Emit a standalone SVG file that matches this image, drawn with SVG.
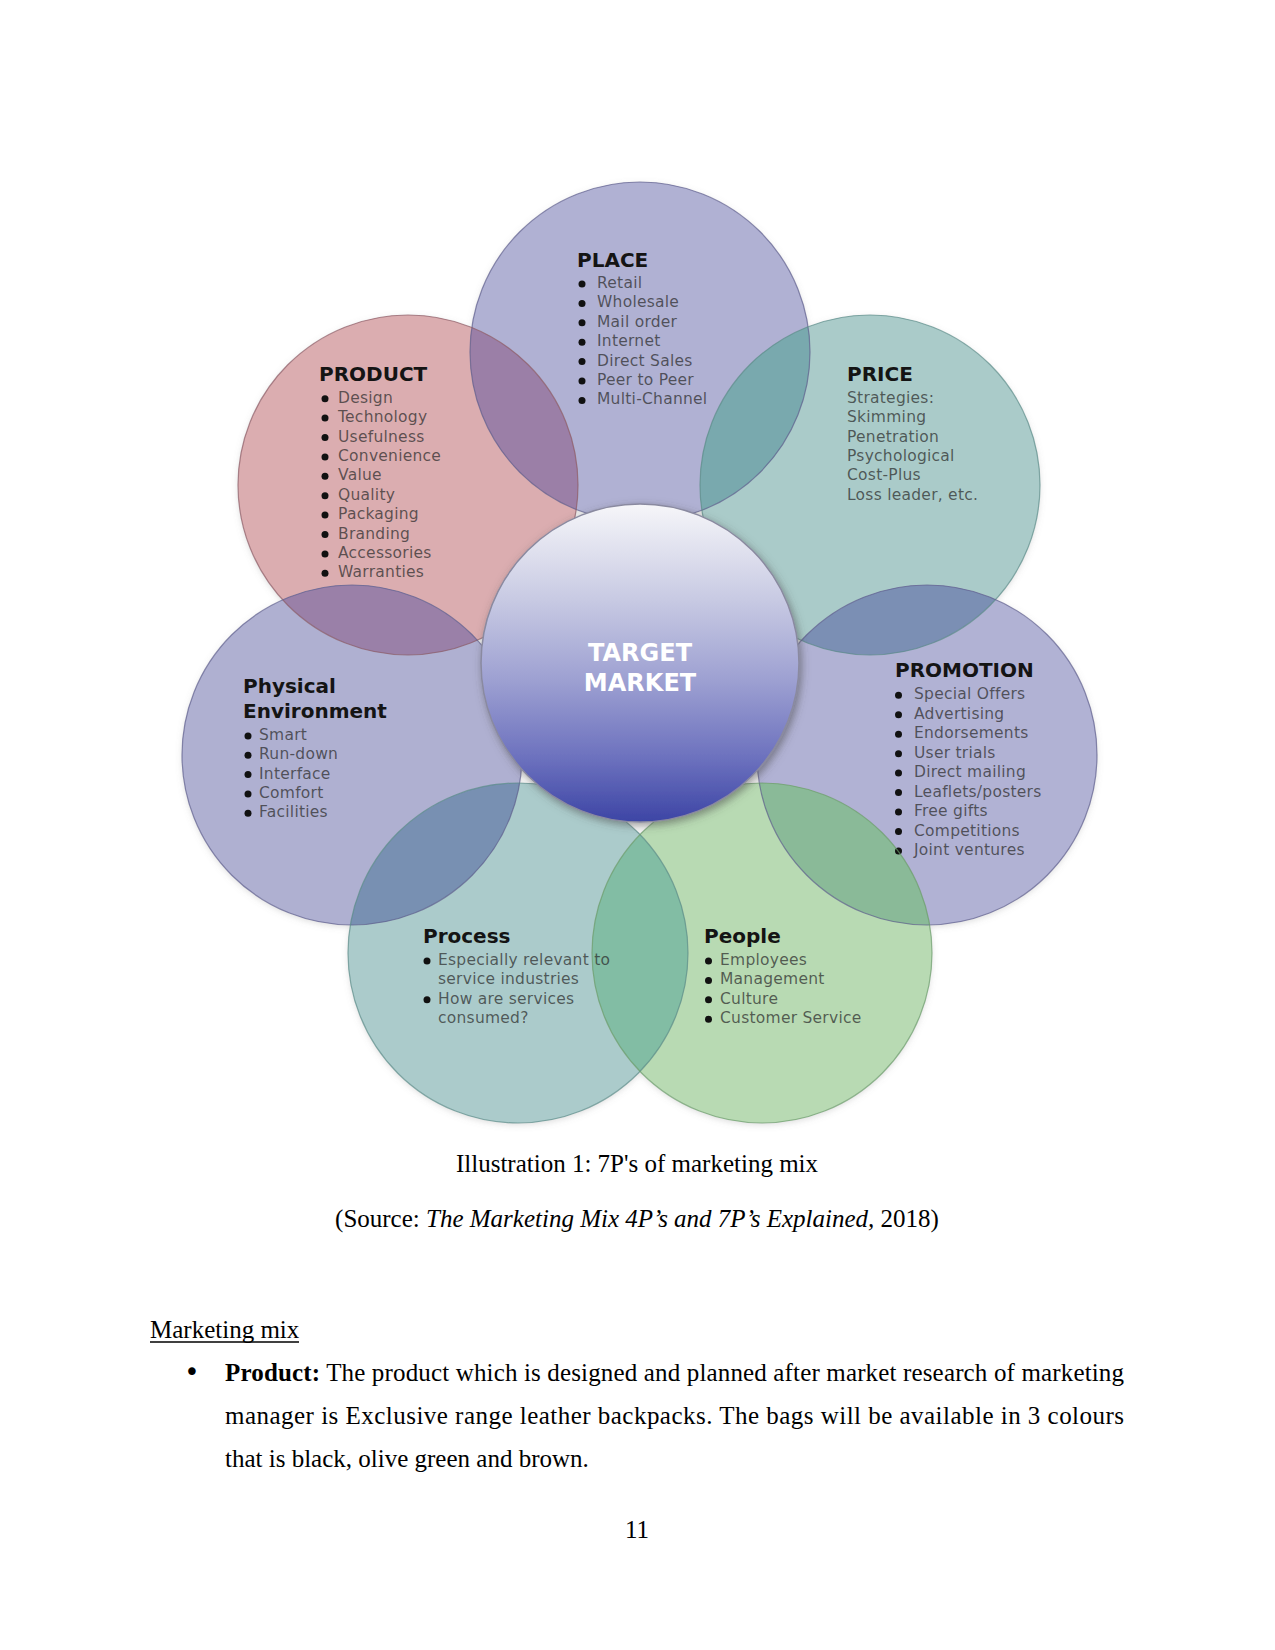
<svg xmlns="http://www.w3.org/2000/svg" width="1275" height="1650" viewBox="0 0 1275 1650">
<style>
.h{font-family:"DejaVu Sans",Verdana,sans-serif;font-weight:bold;font-size:20px;fill:#141414}
.it{font-family:"DejaVu Sans",Verdana,sans-serif;font-size:15.5px;letter-spacing:0.25px;fill:#2b2b2b;fill-opacity:0.72}
.b{fill:#111}
.ol{fill:none;stroke-width:1.2;stroke-opacity:0.7}
.doc{font-family:"Liberation Serif","Times New Roman",serif;font-size:25px;fill:#000}
.tm{font-family:"DejaVu Sans",Verdana,sans-serif;font-weight:bold;font-size:24px;fill:#fff;text-anchor:middle}
</style>
<defs>
<clipPath id="c-place"><circle cx="640" cy="352" r="170"/></clipPath>
<clipPath id="c-product"><circle cx="408" cy="485" r="170"/></clipPath>
<clipPath id="c-price"><circle cx="870" cy="485" r="170"/></clipPath>
<clipPath id="c-phys"><circle cx="352" cy="755" r="170"/></clipPath>
<clipPath id="c-promo"><circle cx="927" cy="755" r="170"/></clipPath>
<clipPath id="c-process"><circle cx="518" cy="953" r="170"/></clipPath>
<clipPath id="c-people"><circle cx="762" cy="953" r="170"/></clipPath>
<linearGradient id="tg" x1="0" y1="0" x2="0" y2="1">
<stop offset="0" stop-color="#f6f6f9"/>
<stop offset="0.3" stop-color="#c8cae3"/>
<stop offset="0.55" stop-color="#9ea1d2"/>
<stop offset="0.8" stop-color="#6c71be"/>
<stop offset="1" stop-color="#3d45a5"/>
</linearGradient>
<filter id="sh" x="-20%" y="-20%" width="140%" height="140%">
<feDropShadow dx="0" dy="2" stdDeviation="3" flood-color="#777" flood-opacity="0.25"/>
</filter>
<filter id="tsh" x="-20%" y="-20%" width="140%" height="140%">
<feDropShadow dx="2" dy="3" stdDeviation="4" flood-color="#444" flood-opacity="0.55"/>
</filter>
</defs>
<rect width="1275" height="1650" fill="#fff"/>

<g id="fills" filter="url(#sh)">
<circle cx="640" cy="352" r="170" fill="#b0b1d3"/>
<circle cx="408" cy="485" r="170" fill="#dbadb0"/>
<circle cx="870" cy="485" r="170" fill="#aacbc9"/>
<circle cx="352" cy="755" r="170" fill="#afb0d1"/>
<circle cx="927" cy="755" r="170" fill="#b1b2d4"/>
<circle cx="518" cy="953" r="170" fill="#abcbcb"/>
<circle cx="762" cy="953" r="170" fill="#b8dab3"/>
</g>

<g id="overlaps">
<circle cx="408" cy="485" r="170" fill="#9b7fa7" clip-path="url(#c-place)"/>
<circle cx="870" cy="485" r="170" fill="#79a9ae" clip-path="url(#c-place)"/>
<circle cx="927" cy="755" r="170" fill="#7b8fb4" clip-path="url(#c-price)"/>
<circle cx="762" cy="953" r="170" fill="#8aba98" clip-path="url(#c-promo)"/>
<circle cx="518" cy="953" r="170" fill="#82bda4" clip-path="url(#c-people)"/>
<circle cx="352" cy="755" r="170" fill="#7890b2" clip-path="url(#c-process)"/>
<circle cx="408" cy="485" r="170" fill="#9a80a8" clip-path="url(#c-phys)"/>
</g>

<g id="node-place">
<circle class="ol" cx="640" cy="352" r="170" stroke="#5d5d8c"/>
<text class="h" x="577" y="267">PLACE</text>
<g class="b"><circle cx="582" cy="284" r="3.5"/><circle cx="582" cy="303.4" r="3.5"/><circle cx="582" cy="322.8" r="3.5"/><circle cx="582" cy="342.2" r="3.5"/><circle cx="582" cy="361.6" r="3.5"/><circle cx="582" cy="381" r="3.5"/><circle cx="582" cy="400.4" r="3.5"/></g>
<text class="it"><tspan x="597" y="288">Retail</tspan><tspan x="597" y="307.4">Wholesale</tspan><tspan x="597" y="326.8">Mail order</tspan><tspan x="597" y="346.2">Internet</tspan><tspan x="597" y="365.6">Direct Sales</tspan><tspan x="597" y="385">Peer to Peer</tspan><tspan x="597" y="404.4">Multi-Channel</tspan></text>
</g>

<g id="node-product">
<circle class="ol" cx="408" cy="485" r="170" stroke="#8a5a64"/>
<text class="h" x="319" y="381">PRODUCT</text>
<g class="b"><circle cx="325" cy="398.7" r="3.5"/><circle cx="325" cy="418.1" r="3.5"/><circle cx="325" cy="437.5" r="3.5"/><circle cx="325" cy="456.9" r="3.5"/><circle cx="325" cy="476.3" r="3.5"/><circle cx="325" cy="495.7" r="3.5"/><circle cx="325" cy="515.1" r="3.5"/><circle cx="325" cy="534.5" r="3.5"/><circle cx="325" cy="553.9" r="3.5"/><circle cx="325" cy="573.3" r="3.5"/></g>
<text class="it"><tspan x="338" y="402.7">Design</tspan><tspan x="338" y="422.1">Technology</tspan><tspan x="338" y="441.5">Usefulness</tspan><tspan x="338" y="460.9">Convenience</tspan><tspan x="338" y="480.3">Value</tspan><tspan x="338" y="499.7">Quality</tspan><tspan x="338" y="519.1">Packaging</tspan><tspan x="338" y="538.5">Branding</tspan><tspan x="338" y="557.9">Accessories</tspan><tspan x="338" y="577.3">Warranties</tspan></text>
</g>

<g id="node-price">
<circle class="ol" cx="870" cy="485" r="170" stroke="#5a8a88"/>
<text class="h" x="847" y="381">PRICE</text>
<text class="it"><tspan x="847" y="402.7">Strategies:</tspan><tspan x="847" y="422.1">Skimming</tspan><tspan x="847" y="441.5">Penetration</tspan><tspan x="847" y="460.9">Psychological</tspan><tspan x="847" y="480.3">Cost-Plus</tspan><tspan x="847" y="499.7">Loss leader, etc.</tspan></text>
</g>

<g id="node-physical">
<circle class="ol" cx="352" cy="755" r="170" stroke="#5d5d8c"/>
<text class="h"><tspan x="243" y="693">Physical</tspan><tspan x="243" y="718">Environment</tspan></text>
<g class="b"><circle cx="248" cy="736" r="3.5"/><circle cx="248" cy="755.3" r="3.5"/><circle cx="248" cy="774.6" r="3.5"/><circle cx="248" cy="793.9" r="3.5"/><circle cx="248" cy="813.2" r="3.5"/></g>
<text class="it"><tspan x="259" y="740">Smart</tspan><tspan x="259" y="759.3">Run-down</tspan><tspan x="259" y="778.6">Interface</tspan><tspan x="259" y="797.9">Comfort</tspan><tspan x="259" y="817.2">Facilities</tspan></text>
</g>

<g id="node-promotion">
<circle class="ol" cx="927" cy="755" r="170" stroke="#5d5d8c"/>
<text class="h" x="895" y="677">PROMOTION</text>
<g class="b"><circle cx="898.5" cy="695.3" r="3.5"/><circle cx="898.5" cy="714.8" r="3.5"/><circle cx="898.5" cy="734.2" r="3.5"/><circle cx="898.5" cy="753.7" r="3.5"/><circle cx="898.5" cy="773.1" r="3.5"/><circle cx="898.5" cy="792.6" r="3.5"/><circle cx="898.5" cy="812" r="3.5"/><circle cx="898.5" cy="831.5" r="3.5"/><circle cx="898.5" cy="851" r="3.5"/></g>
<text class="it"><tspan x="914" y="699.3">Special Offers</tspan><tspan x="914" y="718.8">Advertising</tspan><tspan x="914" y="738.2">Endorsements</tspan><tspan x="914" y="757.7">User trials</tspan><tspan x="914" y="777.1">Direct mailing</tspan><tspan x="914" y="796.6">Leaflets/posters</tspan><tspan x="914" y="816">Free gifts</tspan><tspan x="914" y="835.5">Competitions</tspan><tspan x="914" y="855">Joint ventures</tspan></text>
</g>

<g id="node-process">
<circle class="ol" cx="518" cy="953" r="170" stroke="#5a8a88"/>
<text class="h" x="423" y="943">Process</text>
<g class="b"><circle cx="427" cy="961" r="3.5"/><circle cx="427" cy="999.8" r="3.5"/></g>
<text class="it"><tspan x="438" y="965">Especially relevant to</tspan><tspan x="438" y="984.4">service industries</tspan><tspan x="438" y="1003.8">How are services</tspan><tspan x="438" y="1023.2">consumed?</tspan></text>
</g>

<g id="node-people">
<circle class="ol" cx="762" cy="953" r="170" stroke="#6a9a6a"/>
<text class="h" x="704" y="943">People</text>
<g class="b"><circle cx="708.5" cy="961" r="3.5"/><circle cx="708.5" cy="980.4" r="3.5"/><circle cx="708.5" cy="999.8" r="3.5"/><circle cx="708.5" cy="1019.2" r="3.5"/></g>
<text class="it"><tspan x="720" y="965">Employees</tspan><tspan x="720" y="984.4">Management</tspan><tspan x="720" y="1003.8">Culture</tspan><tspan x="720" y="1023.2">Customer Service</tspan></text>
</g>

<g id="node-target">
<circle cx="640" cy="663" r="159" fill="url(#tg)" stroke="#8a8aa0" stroke-width="1.5" filter="url(#tsh)"/>
<text class="tm"><tspan x="640" y="661">TARGET</tspan><tspan x="640" y="691">MARKET</tspan></text>
</g>

<g id="page-text">
<text class="doc" x="637" y="1172" text-anchor="middle">Illustration 1: 7P's of marketing mix</text>
<text class="doc" x="637" y="1227" text-anchor="middle">(Source: <tspan font-style="italic">The Marketing Mix 4P’s and 7P’s Explained,</tspan> 2018)</text>
<text class="doc" x="150" y="1338">Marketing mix</text>
<line x1="150" y1="1342" x2="299" y2="1342" stroke="#000" stroke-width="1.3"/>
<text x="192" y="1381" text-anchor="middle" font-family="DejaVu Sans,sans-serif" font-size="26" fill="#000">•</text>
<text class="doc" x="225" y="1381" textLength="899" lengthAdjust="spacing"><tspan font-weight="bold">Product:</tspan> The product which is designed and planned after market research of marketing</text>
<text class="doc" x="225" y="1424" textLength="899" lengthAdjust="spacing">manager is Exclusive range leather backpacks. The bags will be available in 3 colours</text>
<text class="doc" x="225" y="1467">that is black, olive green and brown.</text>
<text class="doc" x="637" y="1538" text-anchor="middle">11</text>
</g>
</svg>
